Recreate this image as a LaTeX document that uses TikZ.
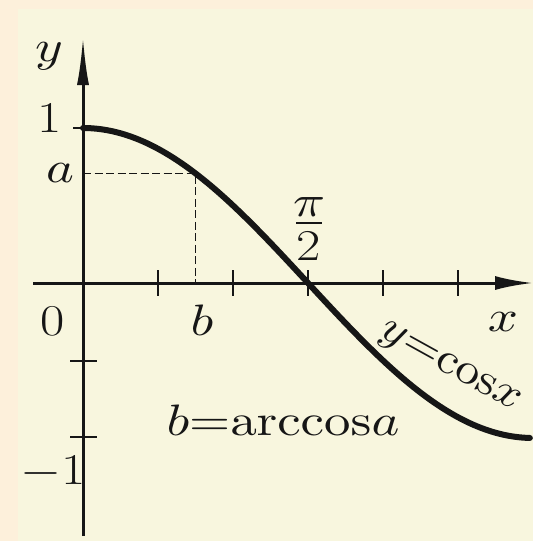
\documentclass[tikz,border=0pt]{standalone}
\DeclareFontShape{OML}{cmm}{m}{it}{<->cmmi10}{}
\DeclareFontShape{OMS}{cmsy}{m}{n}{<->cmsy10}{}
\DeclareFontShape{OT1}{cmr}{m}{n}{<->cmr10}{}
\DeclareFontShape{OMX}{cmex}{m}{n}{<->cmex10}{}
\usetikzlibrary{arrows.meta}
\definecolor{outerbg}{HTML}{FDF0DB}
\definecolor{panel}{HTML}{F8F6DE}
\definecolor{ink}{HTML}{161616}
\newcommand\mywide[1]{\scalebox{1.2}[1]{#1}}
\begin{document}
\begin{tikzpicture}[x=1pt,y=-1pt,
  lbl/.style={font=\fontsize{44}{52}\selectfont, inner sep=0pt, text=ink},
  axisline/.style={line width=3pt, draw=ink},
  tickline/.style={line width=2.5pt, draw=ink},
  curveline/.style={line width=6pt, draw=ink, line cap=round},
  guide/.style={line width=1.8pt, dash pattern=on 8pt off 3.5pt, draw=ink},
  fracbar/.style={line width=2pt, draw=ink}]
\fill[outerbg] (0,0) rectangle (533,541);
\fill[panel] (18,9) rectangle (533,541);
\useasboundingbox (0,0) rectangle (533,541);
% key points
\coordinate (O) at (83,283);
\coordinate (ytop) at (83,37);
\coordinate (ybot) at (83,536);
\coordinate (xl) at (33,283);
\coordinate (xr) at (533,283);
\coordinate (A) at (83,173.4);
\coordinate (P) at (195.5,173.4);
\coordinate (B) at (195.5,283);
% axes
\draw[axisline,-{Latex[length=48pt,width=12pt]}] (ybot) -- (ytop);
\draw[axisline,-{Latex[length=38pt,width=14pt]}] (xl) -- (xr);
% ticks
\foreach \t in {158,233,308,383,458} \draw[tickline] (\t,270) -- (\t,296);
\draw[tickline] (70,361) -- (97,361);
\draw[tickline] (70,437) -- (97,437);
\draw[tickline] (73,128) -- (85,128);
% dashed guides
\draw[guide] (A) -- (P) -- (B);
% curve
\draw[curveline] plot[domain=0:3.12, samples=120] ({83+143.24*\x},{283-155*cos(\x r)});
% labels
\node[lbl] (ly) at (49,56) {\mywide{$y$}};
\node[lbl] (l1) at (50,118) {\mywide{1}};
\node[lbl] (la) at (60,173) {\mywide{$a$}};
\node[lbl] (l0) at (53,321) {\mywide{0}};
\node[lbl] (lb) at (202,320) {\mywide{$b$}};
\node[lbl] (lpinum) at (309,207) {\mywide{$\pi$}};
\coordinate (barl) at (296,223);
\coordinate (barr) at (322,223);
\draw[fracbar] (barl) -- (barr);
\node[lbl] (lpiden) at (309,246) {\mywide{2}};
\node[lbl] (lx) at (503,322) {\mywide{$x$}};
\node[lbl, rotate=-29] (leq) at (449,369) {\scalebox{1.1}[1]{$y{=}\mathrm{cos}x$}};
\node[lbl] (larc) at (283,420) {\mywide{$b{=}\mathrm{arccos}a$}};
\node[lbl] (lm1) at (53,472) {\mywide{$-$1}};
\end{tikzpicture}
\end{document}
